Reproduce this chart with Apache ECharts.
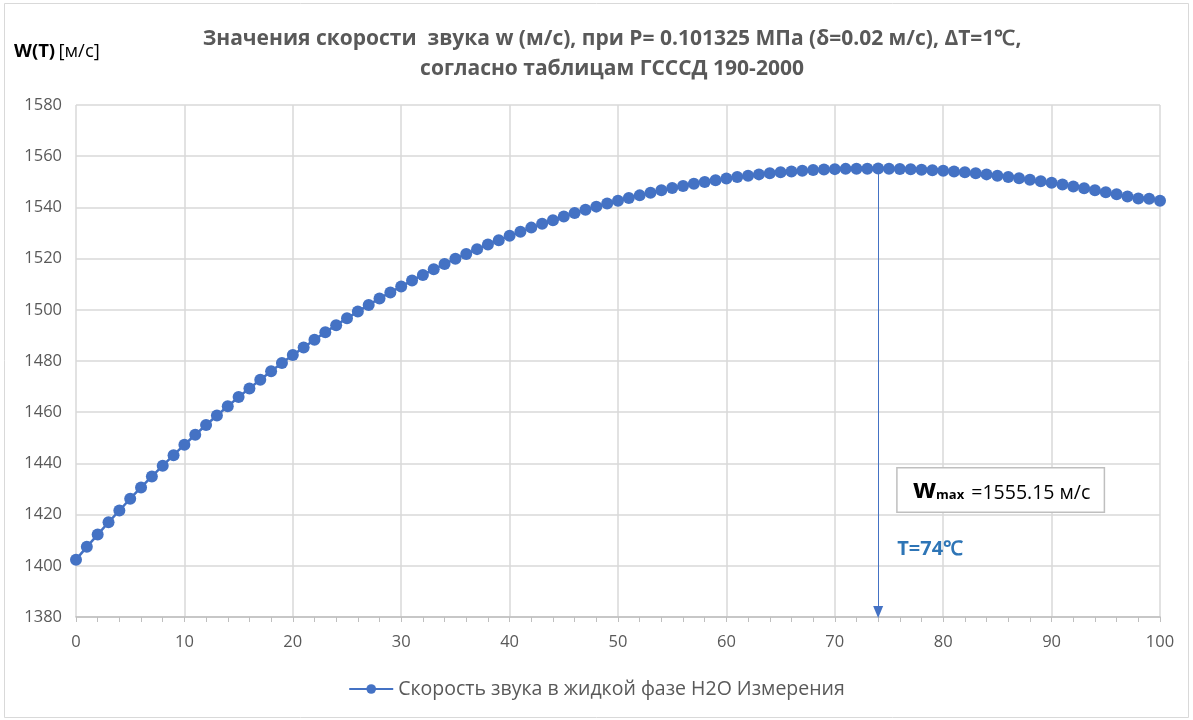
<!DOCTYPE html>
<html>
<head>
<meta charset="utf-8">
<script src="https://cdn.jsdelivr.net/npm/echarts@6/dist/echarts.min.js"></script>
<style>
html,body{margin:0;padding:0;background:#fff;}
#chart{width:1193px;height:720px;}
</style>
</head>
<body>
<div id="chart"></div>
<script>
// Temperature, °C
const temperatures = [];
for (let t = 0; t <= 100; t++) temperatures.push(t);

const speeds = [
  1402.4, 1407.4, 1412.2, 1417.0, 1421.6, 1426.2, 1430.6, 1434.9, 1439.1, 1443.2,
  1447.3, 1451.2, 1455.0, 1458.7, 1462.3, 1465.9, 1469.3, 1472.7, 1476.0, 1479.2,
  1482.3, 1485.3, 1488.3, 1491.2, 1494.0, 1496.7, 1499.3, 1501.9, 1504.4, 1506.8,
  1509.1, 1511.4, 1513.6, 1515.8, 1517.9, 1519.9, 1521.8, 1523.7, 1525.5, 1527.2,
  1528.9, 1530.5, 1532.1, 1533.6, 1535.0, 1536.4, 1537.8, 1539.1, 1540.3, 1541.5,
  1542.6, 1543.7, 1544.7, 1545.7, 1546.7, 1547.6, 1548.4, 1549.2, 1549.9, 1550.6,
  1551.3, 1551.9, 1552.4, 1552.9, 1553.3, 1553.7, 1554.0, 1554.3, 1554.6, 1554.8,
  1554.95, 1555.05, 1555.1, 1555.13, 1555.15, 1555.1, 1555.0, 1554.9, 1554.7, 1554.5,
  1554.3, 1554.0, 1553.7, 1553.3, 1552.9, 1552.4, 1551.9, 1551.4, 1550.8, 1550.2,
  1549.6, 1548.9, 1548.2, 1547.5, 1546.7, 1545.9, 1545.1, 1544.3, 1543.5, 1543.4,
  1542.6
];

const maxT = 74;
const maxW = 1555.15;

const titleLines = [
  'Значения скорости  звука w (м/с), при P= 0.101325 МПа (δ=0.02 м/с), ΔT=1℃,',
  'согласно таблицам ГСССД 190-2000'
];
const seriesName = 'Скорость звука в жидкой фазе H2O Измерения';

const data = temperatures.map((t, i) => [t, speeds[i]]);

const chart = echarts.init(document.getElementById('chart'));
const FONT = 'Open Sans';
chart.setOption({
  animation: false,
  backgroundColor: '#fff',
  textStyle: { fontFamily: FONT },
  title: {
    text: titleLines.join('\n'),
    left: 607, top: 19, textAlign: 'center',
    textStyle: { fontFamily: FONT, fontSize: 21, fontWeight: 'bold', color: '#595959', lineHeight: 30 }
  },
  graphic: [
    { type: 'rect', shape: { x: 4.5, y: 3.5, width: 1184, height: 714 },
      style: { fill: 'none', stroke: '#d9d9d9', lineWidth: 1 }, silent: true, z: -1 },
    { type: 'text', left: 14, top: 42,
      style: { text: '{b|W(T)} {n|[м/с]}',
        rich: { b: { fontFamily: FONT, fontSize: 18.5, fontWeight: 'bold', fill: '#000' },
                n: { fontFamily: FONT, fontSize: 18.5, fill: '#000' } } } }
  ],
  legend: {
    bottom: 16, left: 'center',
    itemWidth: 44, itemHeight: 12, itemGap: 4,
    textStyle: { fontFamily: FONT, fontSize: 19.5, color: '#595959' },
    data: [seriesName]
  },
  grid: { left: 76, right: 33, top: 105, bottom: 103 },
  xAxis: {
    type: 'value', min: 0, max: 100, interval: 10,
    axisLine: { show: true, lineStyle: { color: '#bfbfbf', width: 1.5 } },
    axisTick: { show: true, length: 5, lineStyle: { color: '#bfbfbf' } },
    minorTick: { show: true, splitNumber: 5, length: 5, lineStyle: { color: '#bfbfbf' } },
    splitLine: { show: true, lineStyle: { color: '#d9d9d9', width: 1.5 } },
    axisLabel: { color: '#595959', fontSize: 16.5, margin: 17, fontFamily: FONT }
  },
  yAxis: {
    type: 'value', min: 1380, max: 1580, interval: 20,
    axisLine: { show: false },
    axisTick: { show: false },
    splitLine: { show: true, lineStyle: { color: '#d9d9d9', width: 1.5 } },
    axisLabel: { color: '#595959', fontSize: 16.5, margin: 14, fontFamily: FONT,
      formatter: v => String(v) }
  },
  series: [{
    name: seriesName,
    type: 'line',
    data: data,
    symbol: 'circle',
    symbolSize: 12,
    color: '#4472C4',
    lineStyle: { color: '#4472C4', width: 2.5 },
    itemStyle: { color: '#4472C4' },
    markLine: {
      silent: true,
      symbolSize: [10, 12],
      lineStyle: { color: '#4472C4', width: 1, type: 'solid' },
      label: { show: false },
      data: [[
        { coord: [maxT, maxW], symbol: 'none' },
        { coord: [maxT, 1382], symbol: 'triangle' }
      ]]
    },
    markPoint: {
      silent: true,
      symbol: 'rect', symbolSize: 0,
      data: [
        { coord: [85.3, 1429.6],
          label: { show: true, position: 'inside',
            formatter: '{w|w}{m|max} {v|=' + maxW.toFixed(2) + ' м/с}',
            backgroundColor: '#fff', borderColor: '#bfbfbf', borderWidth: 1.5,
            padding: [8, 12, 8, 14], width: 180,
            rich: {
              w: { fontFamily: FONT, fontSize: 27, fontWeight: 'bold', color: '#000', verticalAlign: 'bottom' },
              m: { fontFamily: FONT, fontSize: 13, fontWeight: 'bold', color: '#000', verticalAlign: 'bottom', padding: [0,4,2,0] },
              v: { fontFamily: FONT, fontSize: 19.5, color: '#000', verticalAlign: 'bottom' }
            } } },
        { coord: [78.8, 1406.5],
          label: { show: true, position: 'inside', formatter: 'T=' + maxT + '℃',
            fontFamily: FONT, fontSize: 20, fontWeight: 'bold', color: '#2E75B6' } }
      ]
    }
  }]
});
</script>
</body>
</html>
